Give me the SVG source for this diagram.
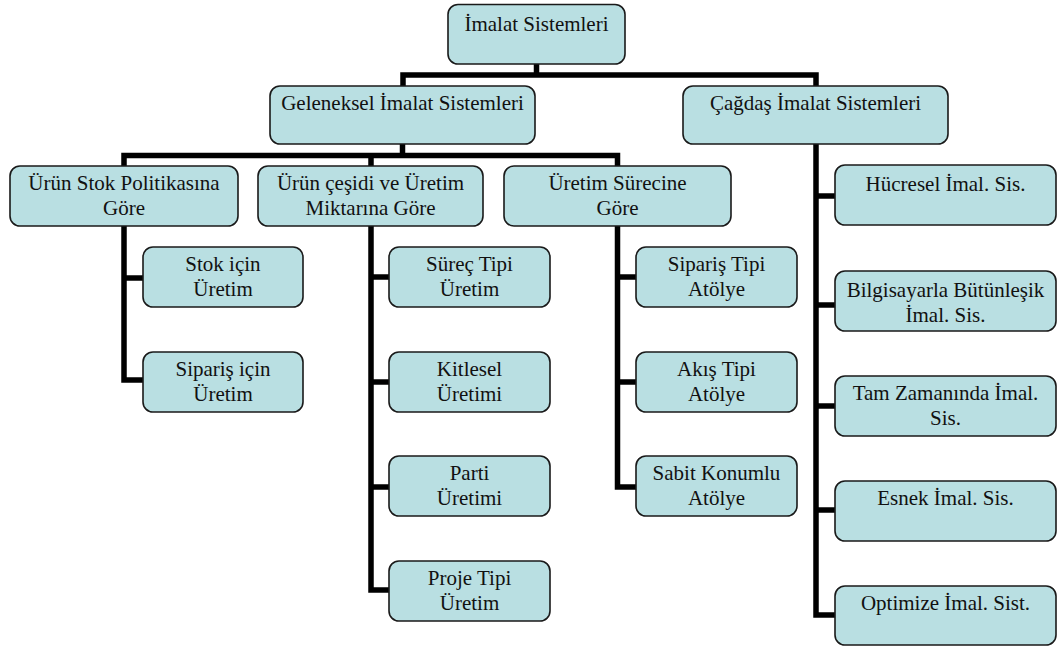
<svg xmlns="http://www.w3.org/2000/svg" width="1057" height="648" viewBox="0 0 1057 648">
  <style>
    .box { fill: #B9DFE2; stroke: #1a1a1a; stroke-width: 1.6; }
    .wire { fill: none; stroke: #000; stroke-width: 5.5; stroke-linejoin: miter; stroke-linecap: butt; }
  </style>
  <rect width="1057" height="648" fill="#fff"/>

  <!-- connectors -->
  <g id="connectors" class="wire">
    <!-- root to first level -->
    <path d="M536.5 64 V75"/>
    <path d="M403 86 V75 H816 V86"/>
    <!-- traditional systems to its categories -->
    <path d="M402.5 144 V155.5"/>
    <path d="M124 166 V155.5 H617.5 V166"/>
    <path d="M371 155.5 V166"/>
    <!-- stock policy branch -->
    <path d="M124 226 V380 H143"/>
    <path d="M124 278 H143"/>
    <!-- product variety branch -->
    <path d="M371 226 V590 H389"/>
    <path d="M371 277 H389"/>
    <path d="M371 382 H389"/>
    <path d="M371 487 H389"/>
    <!-- production process branch -->
    <path d="M617.5 226 V487 H636"/>
    <path d="M617.5 277 H636"/>
    <path d="M617.5 382 H636"/>
    <!-- modern systems branch -->
    <path d="M816 144 V615 H835"/>
    <path d="M816 196 H835"/>
    <path d="M816 305 H835"/>
    <path d="M816 406 H835"/>
    <path d="M816 510 H835"/>
  </g>

  <g id="nodes" font-family="Liberation Serif, serif" font-size="21" fill="#111" text-anchor="middle">
  <!-- top -->
  <g id="imalat-sistemleri">
    <rect class="box" x="448" y="4.5" width="177" height="59.5" rx="10"/>
    <text x="536.5" y="31">İmalat Sistemleri</text>
  </g>

  <!-- first level -->
  <g id="geleneksel">
    <rect class="box" x="270" y="86" width="265" height="58" rx="10"/>
    <text x="402.5" y="110">Geleneksel İmalat Sistemleri</text>
  </g>
  <g id="cagdas">
    <rect class="box" x="683" y="86" width="265" height="58" rx="10"/>
    <text x="815.5" y="110">Çağdaş İmalat Sistemleri</text>
  </g>

  <!-- categories of traditional systems -->
  <g id="urun-stok">
    <rect class="box" x="10" y="166" width="228" height="60" rx="10"/>
    <text x="124" y="190">Ürün Stok Politikasına</text>
    <text x="124" y="215">Göre</text>
  </g>
  <g id="urun-cesidi">
    <rect class="box" x="258" y="166" width="225" height="60" rx="10"/>
    <text x="370.5" y="190">Ürün çeşidi ve Üretim</text>
    <text x="370.5" y="215">Miktarına Göre</text>
  </g>
  <g id="uretim-surecine">
    <rect class="box" x="504" y="166" width="227" height="60" rx="10"/>
    <text x="617.5" y="190">Üretim Sürecine</text>
    <text x="617.5" y="215">Göre</text>
  </g>

  <!-- stock policy -->
  <g id="stok-icin">
    <rect class="box" x="143" y="247" width="160" height="60" rx="10"/>
    <text x="223" y="271">Stok için</text>
    <text x="223" y="296">Üretim</text>
  </g>
  <g id="siparis-icin">
    <rect class="box" x="143" y="352" width="160" height="60" rx="10"/>
    <text x="223" y="376">Sipariş için</text>
    <text x="223" y="401">Üretim</text>
  </g>

  <!-- product variety and volume -->
  <g id="surec-tipi">
    <rect class="box" x="389" y="247" width="161" height="60" rx="10"/>
    <text x="469.5" y="271">Süreç Tipi</text>
    <text x="469.5" y="296">Üretim</text>
  </g>
  <g id="kitlesel">
    <rect class="box" x="389" y="352" width="161" height="60" rx="10"/>
    <text x="469.5" y="376">Kitlesel</text>
    <text x="469.5" y="401">Üretimi</text>
  </g>
  <g id="parti">
    <rect class="box" x="389" y="456" width="161" height="60" rx="10"/>
    <text x="469.5" y="480">Parti</text>
    <text x="469.5" y="505">Üretimi</text>
  </g>
  <g id="proje-tipi">
    <rect class="box" x="389" y="561" width="161" height="60" rx="10"/>
    <text x="469.5" y="585">Proje Tipi</text>
    <text x="469.5" y="610">Üretim</text>
  </g>

  <!-- production process -->
  <g id="siparis-tipi">
    <rect class="box" x="636" y="247" width="161" height="60" rx="10"/>
    <text x="716.5" y="271">Sipariş Tipi</text>
    <text x="716.5" y="296">Atölye</text>
  </g>
  <g id="akis-tipi">
    <rect class="box" x="636" y="352" width="161" height="60" rx="10"/>
    <text x="716.5" y="376">Akış Tipi</text>
    <text x="716.5" y="401">Atölye</text>
  </g>
  <g id="sabit-konumlu">
    <rect class="box" x="636" y="456" width="161" height="60" rx="10"/>
    <text x="716.5" y="480">Sabit Konumlu</text>
    <text x="716.5" y="505">Atölye</text>
  </g>

  <!-- modern systems -->
  <g id="hucresel">
    <rect class="box" x="835" y="165" width="221" height="60" rx="10"/>
    <text x="945.5" y="191">Hücresel İmal. Sis.</text>
  </g>
  <g id="bilgisayarla">
    <rect class="box" x="835" y="271" width="221" height="60" rx="10"/>
    <text x="945.5" y="297">Bilgisayarla Bütünleşik</text>
    <text x="945.5" y="322">İmal. Sis.</text>
  </g>
  <g id="tam-zamaninda">
    <rect class="box" x="835" y="376" width="221" height="60" rx="10"/>
    <text x="945.5" y="400">Tam Zamanında İmal.</text>
    <text x="945.5" y="425">Sis.</text>
  </g>
  <g id="esnek">
    <rect class="box" x="835" y="481" width="221" height="60" rx="10"/>
    <text x="945.5" y="505">Esnek İmal. Sis.</text>
  </g>
  <g id="optimize">
    <rect class="box" x="835" y="586" width="221" height="59" rx="10"/>
    <text x="945.5" y="610">Optimize İmal. Sist.</text>
  </g>
  </g>
</svg>
